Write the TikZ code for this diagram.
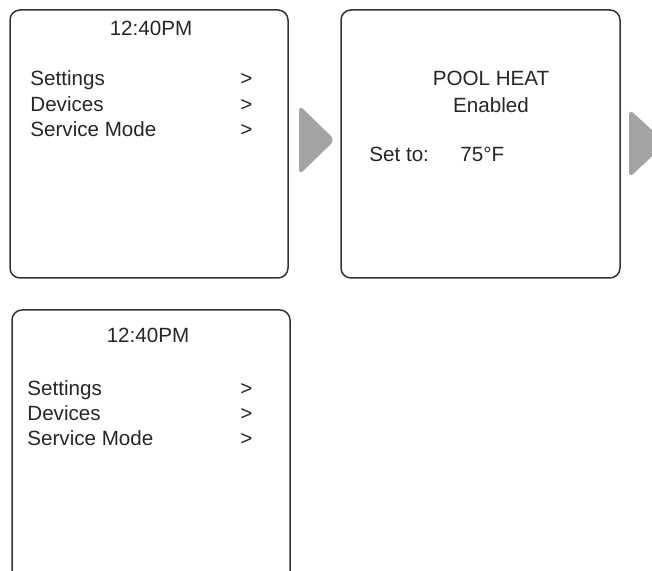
\documentclass[tikz,border=0pt]{standalone}
\usepackage{fontspec}
\setmainfont{Liberation Sans}
\begin{document}
\begin{tikzpicture}[x=0.5pt,y=-0.5pt]
% Controller screens, 1 unit = 1 px of the panel
\providecommand{\scrFrameColor}{black!80}
\providecommand{\scrArrowColor}{black!36}
\providecommand{\scrFrameWidth}{0.75pt}
\providecommand{\scrRadius}{5pt}
\tikzset{
  screen/.style={draw=\scrFrameColor, line width=\scrFrameWidth, rounded corners=\scrRadius},
  scrtext/.style={inner sep=0pt, text=black!85, font=\fontsize{10.3}{12}\selectfont},
  nextarrow/.style={fill=\scrArrowColor, rounded corners=3pt}
}
\useasboundingbox (0,0) rectangle (652,571);
\clip (0,0) rectangle (652,571);
% Frames
\draw[screen] (10,10) rectangle (288,278);
\draw[screen] (341,10) rectangle (620,278);
\draw[screen] (12,310) rectangle (290,620);
% Arrows between screens
\fill[nextarrow] (299,105) -- (335,140) -- (299,175) -- cycle;
\fill[nextarrow] (629,109) -- (666,143) -- (629,178) -- cycle;
% Main menu
\node[scrtext, anchor=base] (clockA) at (151,36) {12:40PM};
\node[scrtext, anchor=base west] (setA) at (30,86) {Settings};
\node[scrtext, anchor=base west] (devA) at (30,112) {Devices};
\node[scrtext, anchor=base west] (srvA) at (30,137) {Service Mode};
\node[scrtext, anchor=base west] (gtA1) at (240,86) {>};
\node[scrtext, anchor=base west] (gtA2) at (240,112) {>};
\node[scrtext, anchor=base west] (gtA3) at (240,137) {>};
% Heater screen
\node[scrtext, anchor=base] (heatB) at (491,86) {POOL HEAT};
\node[scrtext, anchor=base] (enabB) at (491,113) {Enabled};
\node[scrtext, anchor=base west] (setB) at (369,162) {Set to:};
\node[scrtext, anchor=base west] (tempB) at (460,162) {75°F};
% Main menu, again
\node[scrtext, anchor=base] (clockC) at (148,343) {12:40PM};
\node[scrtext, anchor=base west] (setC) at (27,395) {Settings};
\node[scrtext, anchor=base west] (devC) at (27,420) {Devices};
\node[scrtext, anchor=base west] (srvC) at (27,445) {Service Mode};
\node[scrtext, anchor=base west] (gtC1) at (240,395) {>};
\node[scrtext, anchor=base west] (gtC2) at (240,420) {>};
\node[scrtext, anchor=base west] (gtC3) at (240,445) {>};
\end{tikzpicture}
\end{document}
